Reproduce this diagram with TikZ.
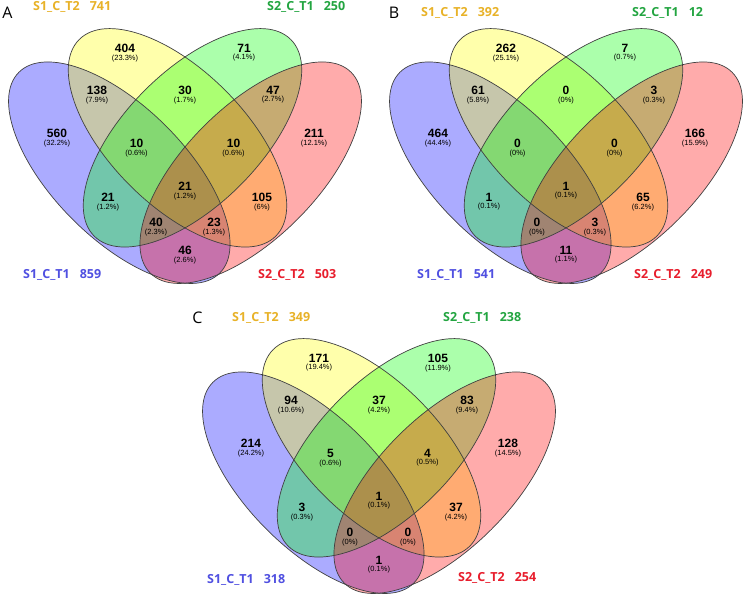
\documentclass[tikz,border=0pt]{standalone}
\usepackage{fontspec}
\setmainfont{Liberation Sans}
\newfontfamily\lblfont{Open Sans}
\usetikzlibrary{positioning}

\definecolor{setblue}{RGB}{0,0,255}
\definecolor{setyellow}{RGB}{255,255,0}
\definecolor{setgreen}{RGB}{0,255,0}
\definecolor{setred}{RGB}{255,0,0}
\definecolor{txtblue}{RGB}{80,80,225}
\definecolor{txtgold}{RGB}{232,178,40}
\definecolor{txtgreen}{RGB}{35,165,65}
\definecolor{txtred}{RGB}{232,30,45}

\tikzset{
  setfill/.style={fill=#1, fill opacity=.33},
  setline/.style={draw=black!75, line width=.7pt},
  cnt/.style={font=\bfseries\fontsize{12}{12}\selectfont, inner sep=0pt},
  pct/.style={font=\fontsize{7.5}{7.5}\selectfont, inner sep=0pt},
  setlbl/.style={font=\lblfont\bfseries\fontsize{12.5}{12.5}\selectfont, anchor=west, inner sep=0pt, text=#1},
  panellbl/.style={font=\lblfont\fontsize{16}{16}\selectfont, inner sep=0pt}
}

% the four ellipses of one panel
\newcommand{\vennsets}{%
  \foreach \cx/\cy/\ang/\ra/\rb/\col in {119.3/172.7/-45/142/66/setblue,177.5/137.8/-45/139/67.3/setyellow,
                                 192.5/137.8/45/139/67.3/setgreen,250.7/172.7/45/142/66/setred}
    \fill[setfill=\col, shift={(\cx,\cy)}, rotate=\ang] (0,0) ellipse [x radius=\ra pt, y radius=\rb pt];
  \foreach \cx/\cy/\ang/\ra/\rb in {119.3/172.7/-45/142/66,177.5/137.8/-45/139/67.3,
                                    192.5/137.8/45/139/67.3,250.7/172.7/45/142/66}
    \draw[setline, shift={(\cx,\cy)}, rotate=\ang] (0,0) ellipse [x radius=\ra pt, y radius=\rb pt];}

% spots of the 15 regions
\newcommand{\vennspots}[1]{%
  \foreach \x/\y [count=\i] in {125/48,244/48,97/90,185/90,273/90,57/133,136.5/143,233.5/143,
                                314/133,108/197,185/186,262/197,156/222,214/222,185/250}
    \coordinate (#1s\i) at (\x,\y);}

\begin{document}
\begin{tikzpicture}[x=1pt,y=-1pt]
\fill[white] (0,0) rectangle (749,595);
\useasboundingbox (0,0) rectangle (749,595);

% A
\begin{scope}
\vennsets
\vennspots{A}
\foreach \n/\p [count=\i] in {404/23.3,71/4.1,138/7.9,30/1.7,47/2.7,560/32.2,10/0.6,10/0.6,
                              211/12.1,21/1.2,21/1.2,105/6,40/2.3,23/1.3,46/2.6}{
  \node[cnt] (A\i) at (As\i) {\n};
  \node[pct, below=2pt of A\i] (Apc\i) {(\p\%)};}
\end{scope}
\node[panellbl] (labA) at (7.5,12.5) {A};
\node[setlbl=txtgold] (A-s1t2) at (33,6.5) {S1\_C\_T2\hspace{10pt}741};
\node[setlbl=txtgreen] (A-s2t1) at (267,6.5) {S2\_C\_T1\hspace{10pt}250};
\node[setlbl=txtblue] (A-s1t1) at (23,275) {S1\_C\_T1\hspace{10pt}859};
\node[setlbl=txtred] (A-s2t2) at (258,275) {S2\_C\_T2\hspace{10pt}503};

% B
\begin{scope}[shift={(381,0)}]
\vennsets
\vennspots{B}
\foreach \n/\p [count=\i] in {262/25.1,7/0.7,61/5.8,0/0,3/0.3,464/44.4,0/0,0/0,
                              166/15.9,1/0.1,1/0.1,65/6.2,0/0,3/0.3,11/1.1}{
  \node[cnt] (B\i) at (Bs\i) {\n};
  \node[pct, below=2pt of B\i] (Bpc\i) {(\p\%)};}
\end{scope}
\node[panellbl] (labB) at (394,13) {B};
\node[setlbl=txtgold] (B-s1t2) at (421,13) {S1\_C\_T2\hspace{10pt}392};
\node[setlbl=txtgreen] (B-s2t1) at (632,13) {S2\_C\_T1\hspace{10pt}12};
\node[setlbl=txtblue] (B-s1t1) at (417,275) {S1\_C\_T1\hspace{10pt}541};
\node[setlbl=txtred] (B-s2t2) at (634,275) {S2\_C\_T2\hspace{10pt}249};

% C
\begin{scope}[shift={(194,310)}]
\vennsets
\vennspots{C}
\foreach \n/\p [count=\i] in {171/19.4,105/11.9,94/10.6,37/4.2,83/9.4,214/24.2,5/0.6,4/0.5,
                              128/14.5,3/0.3,1/0.1,37/4.2,0/0,0/0,1/0.1}{
  \node[cnt] (C\i) at (Cs\i) {\n};
  \node[pct, below=2pt of C\i] (Cpc\i) {(\p\%)};}
\end{scope}
\node[panellbl] (labC) at (197.5,318) {C};
\node[setlbl=txtgold] (C-s1t2) at (232,318) {S1\_C\_T2\hspace{10pt}349};
\node[setlbl=txtgreen] (C-s2t1) at (443,318) {S2\_C\_T1\hspace{10pt}238};
\node[setlbl=txtblue] (C-s1t1) at (207,580) {S1\_C\_T1\hspace{10pt}318};
\node[setlbl=txtred] (C-s2t2) at (458,578) {S2\_C\_T2\hspace{10pt}254};
\end{tikzpicture}
\end{document}
